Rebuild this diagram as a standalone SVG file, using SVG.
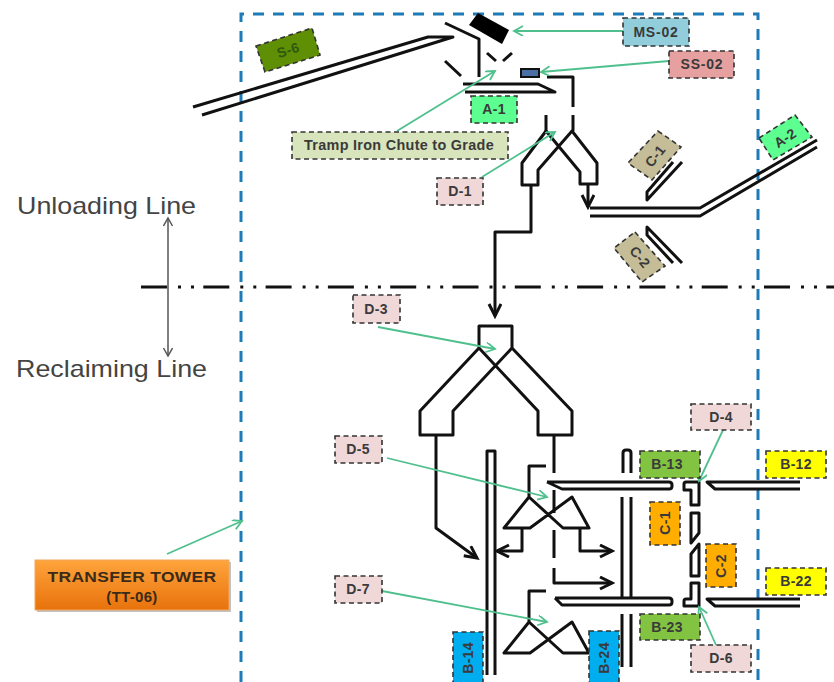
<svg xmlns="http://www.w3.org/2000/svg" width="834" height="682" viewBox="0 0 834 682">
<style>
text{font-family:"Liberation Sans",Arial,sans-serif;text-anchor:middle;dominant-baseline:central;font-size:14px;font-weight:bold;fill:#3a3a3a;letter-spacing:.3px}
.big{font-size:24px;font-weight:normal;fill:#444;text-anchor:start;dominant-baseline:auto;letter-spacing:0}
.lb{stroke:#333;stroke-width:1.6;stroke-dasharray:5 3.5}
.k{fill:none;stroke:#111;stroke-width:3;stroke-linejoin:round}
.g{fill:none;stroke:#4fc08d;stroke-width:1.8}
.d{fill:#f0d8d8}.y{fill:#ffff00}.o{fill:#ffae00}.lg{fill:#82c341}.c{fill:#00aeef}.t{fill:#c4bd97}.a{fill:#5cff90}
</style>
<defs>
<marker id="ga" markerWidth="12" markerHeight="12" refX="10" refY="5" orient="auto" markerUnits="userSpaceOnUse"><path d="M1,0 L10,5 L1,10" fill="none" stroke="#4fc08d" stroke-width="1.8"/></marker>
<marker id="ka" markerWidth="16" markerHeight="16" refX="13" refY="7" orient="auto" markerUnits="userSpaceOnUse"><path d="M1,1 L13,7 L1,13" fill="none" stroke="#111" stroke-width="3"/></marker>
<marker id="da" markerWidth="12" markerHeight="12" refX="9" refY="5" orient="auto-start-reverse" markerUnits="userSpaceOnUse"><path d="M1,0.5 L9,5 L1,9.5" fill="none" stroke="#555" stroke-width="1.5"/></marker>
<linearGradient id="og" x1="0" y1="0" x2="0" y2="1"><stop offset="0" stop-color="#ffa43c"/><stop offset="1" stop-color="#e8720c"/></linearGradient>
</defs>
<rect width="834" height="682" fill="#fff"/>

<g id="connectors">
<path d="M241,682 V14 H758 V682" fill="none" stroke="#1f7ab8" stroke-width="3" stroke-dasharray="11 9"/>
<path d="M141,287 H834" fill="none" stroke="#111" stroke-width="3" stroke-dasharray="26 11 3 10 3 9.3"/>
<path d="M168,356 V218" fill="none" stroke="#555" stroke-width="1.5" marker-start="url(#da)" marker-end="url(#da)"/>

<path class="k" d="M193,107 L428,37 H453 L202,115"/>
<path class="k" d="M445,23 L479,39 V77"/>
<path class="k" d="M445,61 L461,76 M487,53 L496,61 M512,53 L503,61"/>
<path class="k" d="M465,92 H555 L538,84 H463"/>
<path class="k" d="M547,77 H573 V107 M573,115 V131 M546,115 V131"/>
<path class="k" d="M546,131 L522,163 V185 H538 V170 L572,131 L597,163 V184 H580 V172 L546,131"/>
<path class="k" d="M531,185 V232 H495 V316" marker-end="url(#ka)"/>
<path class="k" d="M588,185 V207" marker-end="url(#ka)"/>
<path class="k" d="M590,208 H700 L817,140 M590,216 H700 L817,147"/>
<path class="k" d="M682,162 L647,200 V192 L673,162"/>
<path class="k" d="M673,263 L647,235 V227 L682,263"/>

<path class="k" d="M479,348 V326 H512 V348 L453,411 V435 H420 V411 L479,348 L538,411 V435 H572 V411 L512,348"/>
<path class="k" d="M436,435 V528 L477,558" marker-end="url(#ka)"/>
<path class="k" d="M554,435 V473 M554,490 V513 M554,530 V558"/>
<path class="k" d="M554,568 V583 H612" marker-end="url(#ka)"/>
<path class="k" d="M487,675 V451 H495 V675"/>
<path class="k" d="M546,466 H529 V497 L504,528 H530 L572,497 L589,528 H563 L529,497"/>
<path class="k" d="M522,528 V551 H497" marker-end="url(#ka)"/>
<path class="k" d="M580,528 V551 H612" marker-end="url(#ka)"/>
<path class="k" d="M546,591 H529 V622 L504,653 H530 L572,622 L589,653 H563 L529,622"/>
<path class="k" d="M623,473 V453 Q623,450 626,450 H628 Q631,450 631,453 V473"/>
<path class="k" d="M622,497 V597 M631,497 V597 M622,614 V667 M631,614 V667"/>
<path class="k" d="M547,482 H669 Q672,482 672,485 V486 Q672,489 669,489 H562 L547,482"/>
<path class="k" d="M555,598 H669 Q672,598 672,601 V602 Q672,605 669,605 H562 L555,598"/>
<path class="k" d="M684,488 V484 Q684,482 686,482 H699 V505 H691 V490 H684 Z"/>
<path class="k" d="M691,513 H699 V533 L691,543 Z"/>
<path class="k" d="M699,544 L691,554 V576 H699 Z"/>
<path class="k" d="M691,583 H699 V606 H684 V601 Q684,599 686,599 H691 Z"/>
<path class="k" d="M800,482 H707 L715,489 H800"/>
<path class="k" d="M800,599 H707 L715,606 H800"/>

<path class="g" d="M623,31 H514" marker-end="url(#ga)"/>
<path class="g" d="M669,61 L541,72" marker-end="url(#ga)"/>
<path class="g" d="M397,131 L495,71" marker-end="url(#ga)"/>
<path class="g" d="M482,177 L555,132" marker-end="url(#ga)"/>
<path class="g" d="M378,327 L495,349" marker-end="url(#ga)"/>
<path class="g" d="M387,458 L547,497" marker-end="url(#ga)"/>
<path class="g" d="M382,591 L547,622" marker-end="url(#ga)"/>
<path class="g" d="M723,430 L699,481" marker-end="url(#ga)"/>
<path class="g" d="M716,645 L699,607" marker-end="url(#ga)"/>
<path class="g" d="M167,554 L242,521" marker-end="url(#ga)"/>
</g>

<g id="magnet"><polygon points="469,25 478,13 509,30 502,44" fill="#000"/></g>
<g id="separator"><rect x="521" y="69" width="18" height="8" fill="#4a6fa5" stroke="#111" stroke-width="2"/></g>

<g id="S-6"><polygon class="lb" points="256,46 312,28 320,55 265,72" fill="#5f8f05"/><text x="288" y="50" transform="rotate(-18 288 50)" style="fill:#2f5a10">S-6</text></g>
<g id="MS-02"><rect class="lb" x="623" y="18" width="66" height="28" fill="#92cddc"/><text x="656" y="32" style="letter-spacing:.8px">MS-02</text></g>
<g id="SS-02"><rect class="lb" x="669" y="51" width="65" height="27" fill="#e6a0a0"/><text x="702" y="64" style="letter-spacing:.8px">SS-02</text></g>
<g id="A-1"><rect class="lb a" x="471" y="96" width="46" height="27"/><text x="494" y="109">A-1</text></g>
<g id="Tramp"><rect class="lb" x="292" y="132" width="216" height="27" fill="#d7e4bc"/><text x="399" y="145" textLength="190" lengthAdjust="spacingAndGlyphs">Tramp Iron Chute to Grade</text></g>
<g id="D-1"><rect class="lb d" x="437" y="178" width="46" height="27"/><text x="460" y="191">D-1</text></g>
<g id="A-2"><polygon class="lb a" points="759,138 795,115 812,137 773,160"/><text x="785" y="138" transform="rotate(-33 785 138)">A-2</text></g>
<g id="C-1a"><polygon class="lb t" points="658,131 681,147 652,180 628,163"/><text x="655" y="156" transform="rotate(-52 655 156)">C-1</text></g>
<g id="C-2a"><polygon class="lb t" points="635,232 665,266 642,282 614,248"/><text x="640" y="257" transform="rotate(50 640 257)">C-2</text></g>
<g id="D-3"><rect class="lb d" x="353" y="295" width="47" height="28"/><text x="376" y="309">D-3</text></g>
<g id="D-4"><rect class="lb d" x="691" y="404" width="60" height="26"/><text x="721" y="417">D-4</text></g>
<g id="D-5"><rect class="lb d" x="335" y="436" width="47" height="27"/><text x="358" y="449">D-5</text></g>
<g id="B-13"><rect class="lb lg" x="640" y="451" width="60" height="27"/><text x="667" y="464">B-13</text></g>
<g id="B-12"><rect class="lb y" x="766" y="451" width="60" height="27"/><text x="796" y="464">B-12</text></g>
<g id="C-1b"><rect class="lb o" x="650" y="502" width="30" height="43"/><text x="665" y="523" transform="rotate(-90 665 523)">C-1</text></g>
<g id="C-2b"><rect class="lb o" x="706" y="544" width="30" height="43"/><text x="721" y="566" transform="rotate(-90 721 566)">C-2</text></g>
<g id="B-22"><rect class="lb y" x="766" y="568" width="60" height="27"/><text x="796" y="581">B-22</text></g>
<g id="D-7"><rect class="lb d" x="335" y="576" width="47" height="27"/><text x="358" y="589">D-7</text></g>
<g id="B-23"><rect class="lb lg" x="640" y="614" width="60" height="26"/><text x="667" y="627">B-23</text></g>
<g id="D-6"><rect class="lb d" x="691" y="645" width="60" height="27"/><text x="721" y="658">D-6</text></g>
<g id="B-14"><rect class="lb c" x="453" y="632" width="30" height="52"/><text x="468" y="658" transform="rotate(-90 468 658)">B-14</text></g>
<g id="B-24"><rect class="lb c" x="589" y="631" width="30" height="53"/><text x="604" y="658" transform="rotate(-90 604 658)">B-24</text></g>
<g id="TT-06"><rect x="37" y="562" width="194" height="50" fill="#999" opacity=".6"/><rect x="35" y="560" width="194" height="50" fill="url(#og)" stroke="#f0a860" stroke-width="1"/><text x="132" y="576" textLength="169" lengthAdjust="spacingAndGlyphs" style="font-size:15px;fill:#3a2a18">TRANSFER TOWER</text><text x="132" y="596" style="font-size:15px;fill:#3a2a18">(TT-06)</text></g>
<text class="big" x="17" y="214" textLength="179" lengthAdjust="spacingAndGlyphs">Unloading Line</text>
<text class="big" x="16" y="377" textLength="191" lengthAdjust="spacingAndGlyphs">Reclaiming Line</text>
</svg>
